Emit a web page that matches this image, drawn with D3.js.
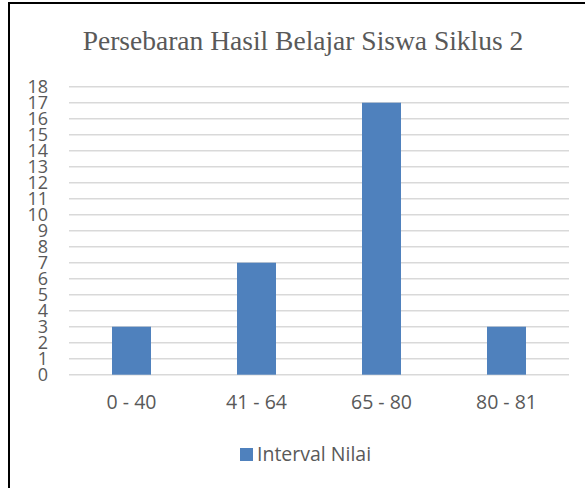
<!DOCTYPE html>
<html>
<head>
<meta charset="utf-8">
<script src="https://cdn.jsdelivr.net/npm/d3@7"></script>
<style>
  body { margin: 0; background: #fff; }
</style>
</head>
<body>
<div id="graph"></div>
<script>
// Chart data
const categories = ["0 - 40", "41 - 64", "65 - 80", "80 - 81"];
const values = [3, 7, 17, 3];
const yTicks = d3.range(0, 19);
const seriesName = "Interval Nilai";
const chartTitle = "Persebaran Hasil Belajar Siswa Siklus 2";

const width = 585, height = 488;
const plot = { left: 69, right: 569, top: 86.7, bottom: 374.7 };
const barColor = "#4f81bd";
const textColor = "#595959";
const sansFont = "'Open Sans', 'Liberation Sans', sans-serif";

const svg = d3.select("#graph")
  .append("svg")
  .attr("width", width)
  .attr("height", height);

// Frame (only top and left edges show)
svg.append("line")
  .attr("x1", 8).attr("y1", 3).attr("x2", width).attr("y2", 3)
  .style("stroke", "black").style("stroke-width", 2);
svg.append("line")
  .attr("x1", 9).attr("y1", 2).attr("x2", 9).attr("y2", height)
  .style("stroke", "black").style("stroke-width", 2);

const x = d3.scaleBand()
  .domain(categories)
  .range([plot.left, plot.right])
  .paddingInner(0.688)
  .paddingOuter(0.344);

const y = d3.scaleLinear()
  .domain([0, 18])
  .range([plot.bottom, plot.top]);

// Title
svg.append("text")
  .attr("x", 303)
  .attr("y", 50)
  .attr("text-anchor", "middle")
  .style("font-family", "'Liberation Serif', 'Times New Roman', serif")
  .style("font-size", "27.5px")
  .style("fill", textColor)
  .text(chartTitle);

// Gridlines
svg.append("g")
  .selectAll("line")
  .data(yTicks)
  .enter()
  .append("line")
  .attr("x1", plot.left)
  .attr("x2", plot.right)
  .attr("y1", d => y(d))
  .attr("y2", d => y(d))
  .style("stroke", "#d9d9d9")
  .style("stroke-width", 1.5);

// Y axis labels (they crowd each other in the original too)
const yAxis = d3.axisLeft(y).tickValues(yTicks).tickSize(0).tickPadding(0);
const yAxisG = svg.append("g")
  .attr("transform", `translate(48,0)`)
  .call(yAxis);
yAxisG.select(".domain").remove();
yAxisG.selectAll("text")
  .style("font-family", sansFont)
  .style("font-size", "18px")
  .style("fill", textColor);

// Bars
svg.append("g")
  .selectAll("rect")
  .data(values)
  .enter()
  .append("rect")
  .attr("x", (d, i) => x(categories[i]))
  .attr("y", d => y(d))
  .attr("width", x.bandwidth())
  .attr("height", d => y(0) - y(d))
  .style("fill", barColor);

// X axis labels
const xAxis = d3.axisBottom(x).tickSize(0).tickPadding(0);
const xAxisG = svg.append("g")
  .attr("transform", `translate(0,395)`)
  .call(xAxis);
xAxisG.select(".domain").remove();
xAxisG.selectAll("text")
  .style("font-family", sansFont)
  .style("font-size", "19.5px")
  .style("fill", textColor);

// Legend
const legend = svg.append("g").attr("transform", "translate(240,448)");
legend.append("rect")
  .attr("width", 13)
  .attr("height", 13)
  .style("fill", barColor);
legend.append("text")
  .attr("x", 17)
  .attr("y", 6.5)
  .attr("dy", "0.35em")
  .style("font-family", sansFont)
  .style("font-size", "19.5px")
  .style("fill", textColor)
  .text(seriesName);
</script>
</body>
</html>
